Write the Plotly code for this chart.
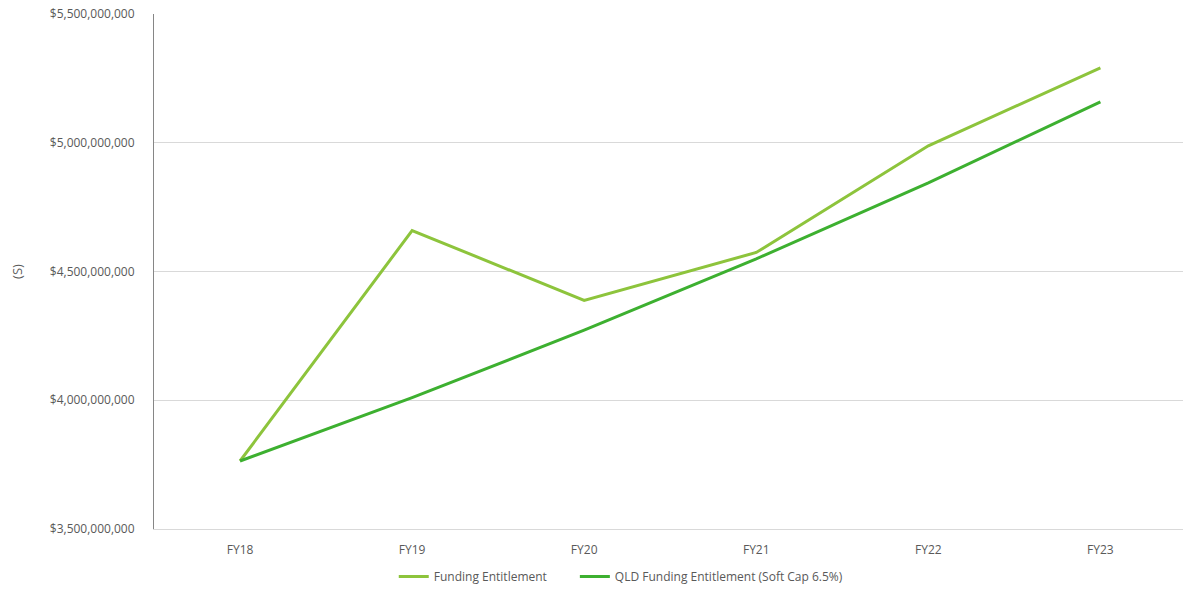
import plotly.graph_objects as go

# Fiscal years on the category axis
years = ["FY18", "FY19", "FY20", "FY21", "FY22", "FY23"]

# Funding entitlement by year ($)
funding_entitlement = [3.764e9, 4.659e9, 4.388e9, 4.574e9, 4.988e9, 5.291e9]

# QLD funding entitlement with a 6.5% soft cap ($)
qld_soft_cap = [3.764e9, 4.010e9, 4.272e9, 4.549e9, 4.844e9, 5.159e9]

# Y-axis tick values and labels
y_ticks = [3.5e9, 4.0e9, 4.5e9, 5.0e9, 5.5e9]
y_tick_labels = ["$3,500,000,000", "$4,000,000,000", "$4,500,000,000",
                 "$5,000,000,000", "$5,500,000,000"]

fig = go.Figure()
fig.add_trace(go.Scatter(
    x=years, y=funding_entitlement, mode="lines",
    name="Funding Entitlement",
    line=dict(color="#8DC43C", width=3),
    legend="legend",
))
fig.add_trace(go.Scatter(
    x=years, y=qld_soft_cap, mode="lines",
    name="QLD Funding Entitlement (Soft Cap 6.5%)",
    line=dict(color="#3DB030", width=3),
    legend="legend2",
))

legend_style = dict(
    orientation="h", xanchor="left", y=-0.093, yanchor="middle",
    font=dict(size=12, color="#595959"), itemwidth=30,
    bgcolor="rgba(0,0,0,0)",
)

fig.update_layout(
    width=1183, height=591,
    margin=dict(l=154, r=0, t=14, b=61),
    paper_bgcolor="white", plot_bgcolor="white",
    font=dict(family="Open Sans", size=12, color="#595959"),
    showlegend=True,
    legend=dict(x=0.233, **legend_style),
    legend2=dict(x=0.409, **legend_style),
    xaxis=dict(
        type="category", range=[-0.5, 5.48],
        showgrid=False, showline=True, linecolor="#D9D9D9", linewidth=1,
        ticks="", ticklabelstandoff=10,
        tickfont=dict(size=12, color="#595959"),
        zeroline=False,
    ),
    yaxis=dict(
        range=[3.5e9, 5.5e9], tickvals=y_ticks, ticktext=y_tick_labels,
        showgrid=True, gridcolor="#D9D9D9", gridwidth=1,
        showline=True, linecolor="#868686", linewidth=1,
        ticks="", ticklabelstandoff=16,
        tickfont=dict(size=12, color="#595959"),
        zeroline=False,
        title=dict(text="(S)", standoff=24, font=dict(size=13, color="#595959")),
    ),
)

fig.write_html("out.html")
